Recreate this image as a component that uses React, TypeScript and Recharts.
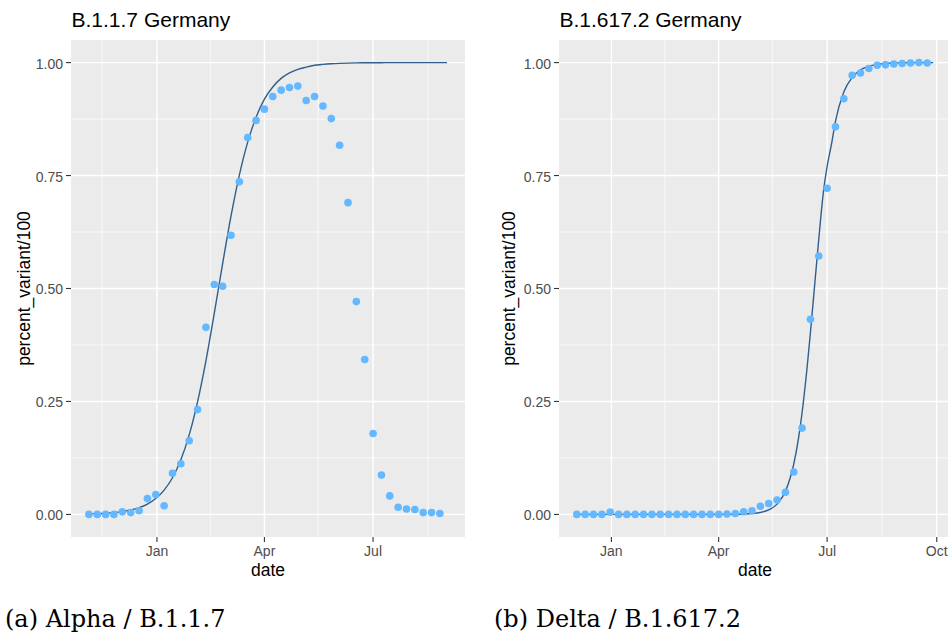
import React from 'react';
import { ComposedChart, Scatter, Line, XAxis, YAxis, CartesianGrid } from 'recharts';

// ---------- data ----------
const alphaDates = [
  '2020-11-05', '2020-11-12', '2020-11-19', '2020-11-26', '2020-12-03', '2020-12-10', '2020-12-17', '2020-12-24',
  '2020-12-31', '2021-01-07', '2021-01-14', '2021-01-21', '2021-01-28', '2021-02-04', '2021-02-11', '2021-02-18',
  '2021-02-25', '2021-03-04', '2021-03-11', '2021-03-18', '2021-03-25', '2021-04-01', '2021-04-08', '2021-04-15',
  '2021-04-22', '2021-04-29', '2021-05-06', '2021-05-13', '2021-05-20', '2021-05-27', '2021-06-03', '2021-06-10',
  '2021-06-17', '2021-06-24', '2021-07-01', '2021-07-08', '2021-07-15', '2021-07-22', '2021-07-29', '2021-08-05',
  '2021-08-12', '2021-08-19', '2021-08-26',
];
const alphaShare = [
  0.0, 0.0, 0.0, 0.0, 0.006, 0.004, 0.008, 0.035,
  0.044, 0.019, 0.091, 0.112, 0.163, 0.232, 0.414, 0.509,
  0.505, 0.618, 0.736, 0.834, 0.872, 0.897, 0.925, 0.939,
  0.945, 0.948, 0.916, 0.925, 0.904, 0.876, 0.817, 0.69,
  0.471, 0.343, 0.179, 0.087, 0.041, 0.016, 0.012, 0.011,
  0.004, 0.004, 0.002,
];
const alphaFitDates = [...alphaDates, '2021-09-01'];
const alphaFitShare = [
  0.0011, 0.0017, 0.0026, 0.004, 0.0062, 0.0097, 0.0149, 0.023,
  0.0353, 0.0538, 0.0812, 0.1208, 0.176, 0.249, 0.34, 0.445,
  0.555, 0.66, 0.751, 0.824, 0.879, 0.919, 0.946, 0.965,
  0.977, 0.985, 0.99, 0.994, 0.996, 0.9974, 0.9983, 0.9989,
  0.9993, 0.9996, 0.9997, 0.9998, 0.9999, 0.9999, 0.9999, 1.0,
  1.0, 1.0, 1.0, 1.0,
];

const deltaDates = [
  '2020-12-03', '2020-12-10', '2020-12-17', '2020-12-24', '2020-12-31', '2021-01-07', '2021-01-14', '2021-01-21',
  '2021-01-28', '2021-02-04', '2021-02-11', '2021-02-18', '2021-02-25', '2021-03-04', '2021-03-11', '2021-03-18',
  '2021-03-25', '2021-04-01', '2021-04-08', '2021-04-15', '2021-04-22', '2021-04-29', '2021-05-06', '2021-05-13',
  '2021-05-20', '2021-05-27', '2021-06-03', '2021-06-10', '2021-06-17', '2021-06-24', '2021-07-01', '2021-07-08',
  '2021-07-15', '2021-07-22', '2021-07-29', '2021-08-05', '2021-08-12', '2021-08-19', '2021-08-26', '2021-09-02',
  '2021-09-09', '2021-09-16', '2021-09-23',
];
const deltaShare = [
  0.0, 0.0, 0.0, 0.0, 0.005, 0.0, 0.0, 0.0,
  0.0, 0.0, 0.0, 0.0, 0.0, 0.0, 0.0, 0.0,
  0.0, 0.0, 0.001, 0.002, 0.006, 0.008, 0.018, 0.024,
  0.032, 0.049, 0.094, 0.191, 0.432, 0.572, 0.722, 0.858,
  0.92, 0.972, 0.977, 0.987, 0.994, 0.995, 0.997, 0.998,
  0.999, 1.0, 0.999,
];
const deltaFitDates = [
  '2020-12-03', '2021-01-07', '2021-02-04', '2021-03-04', '2021-04-01', '2021-04-08', '2021-04-15', '2021-04-22',
  '2021-04-29', '2021-05-06', '2021-05-13', '2021-05-20', '2021-05-27', '2021-05-31', '2021-06-03', '2021-06-07',
  '2021-06-10', '2021-06-14', '2021-06-17', '2021-06-21', '2021-06-24', '2021-06-28', '2021-07-01', '2021-07-05',
  '2021-07-08', '2021-07-15', '2021-07-22', '2021-07-29', '2021-08-05', '2021-08-12', '2021-08-19', '2021-08-26',
  '2021-09-02', '2021-09-09', '2021-09-16', '2021-09-23', '2021-09-28',
];
const deltaFitShare = [
  0.0, 0.0, 0.0, 0.00001, 0.00007, 0.00015, 0.00035, 0.0008,
  0.0019, 0.0043, 0.01, 0.0228, 0.051, 0.0805, 0.1115, 0.1685,
  0.225, 0.3195, 0.402, 0.521, 0.609, 0.716, 0.77, 0.824,
  0.87, 0.935, 0.967, 0.984, 0.992, 0.996, 0.998, 0.999,
  0.9995, 1.0, 1.0, 1.0, 1.0,
];

const monthTickDates = ['2021-01-01', '2021-04-01', '2021-07-01', '2021-10-01'];
const monthTickLabels = ['Jan', 'Apr', 'Jul', 'Oct'];
const minorMonthDates = ['2020-11-16', '2021-02-15', '2021-05-16', '2021-08-16'];
const yTicks = [0, 0.25, 0.5, 0.75, 1];
const yMinor = [0.125, 0.375, 0.625, 0.875];

// ---------- helpers ----------
const ORIGIN = Date.parse('2021-01-01');
const toDay = (s: string) => (Date.parse(s) - ORIGIN) / 86400000;
const rows = (dates: string[], vals: number[]) => dates.map((d, i) => ({ x: toDay(d), y: vals[i] }));

const alphaPts = rows(alphaDates, alphaShare);
const alphaFit = rows(alphaFitDates, alphaFitShare);
const deltaPts = rows(deltaDates, deltaShare);
const deltaFit = rows(deltaFitDates, deltaFitShare);

const tickDays = monthTickDates.map(toDay);
const minorDays = minorMonthDates.map(toDay);

const expand = (fit: { x: number }[]) => {
  const lo = Math.min(...fit.map((r) => r.x));
  const hi = Math.max(...fit.map((r) => r.x));
  const pad = (hi - lo) * 0.05;
  return [lo - pad, hi + pad] as [number, number];
};

const SANS = '"Liberation Sans", Arial, Helvetica, sans-serif';
const POINT = '#63B8FF';
const LINE = '#2F5F8A';

const Dot = (p: any) => <circle cx={p.cx} cy={p.cy} r={3.8} fill={POINT} />;

function Panel({ pts, fit, width, marginRight }: { pts: any[]; fit: any[]; width: number; marginRight: number }) {
  const domain = expand(fit);
  const xt = tickDays.filter((d) => d >= domain[0] && d <= domain[1]);
  const xm = minorDays.filter((d) => d >= domain[0] && d <= domain[1]);
  return (
    <ComposedChart width={width} height={567} margin={{ top: 40, right: marginRight, bottom: 0, left: 0 }}>
      <CartesianGrid fill="#EBEBEB" stroke="#FFFFFF" strokeWidth={0.7} horizontalValues={yMinor} verticalValues={xm} />
      <CartesianGrid stroke="#FFFFFF" strokeWidth={1.4} horizontalValues={yTicks} verticalValues={xt} />
      <XAxis
        type="number"
        dataKey="x"
        domain={domain}
        allowDataOverflow
        ticks={xt}
        interval={0}
        tickFormatter={(v: number) => monthTickLabels[tickDays.indexOf(v)]}
        axisLine={false}
        tickLine={{ stroke: '#333333', strokeWidth: 1.1 }}
        tickSize={5}
        tickMargin={4}
        height={30}
        tick={{ fill: '#4D4D4D', fontSize: 14, fontFamily: SANS }}
      />
      <YAxis
        type="number"
        dataKey="y"
        domain={[-0.05, 1.05]}
        allowDataOverflow
        ticks={yTicks}
        interval={0}
        tickFormatter={(v: number) => v.toFixed(2)}
        axisLine={false}
        tickLine={{ stroke: '#333333', strokeWidth: 1.1 }}
        tickSize={5}
        tickMargin={3}
        width={71}
        tick={{ fill: '#4D4D4D', fontSize: 14, fontFamily: SANS, dy: 1 }}
      />
      <Scatter data={pts} dataKey="y" shape={Dot} isAnimationActive={false} />
      <Line data={fit} dataKey="y" type="monotone" dot={false} activeDot={false} stroke={LINE} strokeWidth={1.4} isAnimationActive={false} />
    </ComposedChart>
  );
}

export default function App() {
  return (
    <div style={{ position: 'absolute', left: 0, top: 0, width: 948, height: 634, overflow: 'hidden', background: '#FFFFFF' }}>
      <div style={{ position: 'absolute', left: 0, top: 0 }}>
        <Panel pts={alphaPts} fit={alphaFit} width={474} marginRight={9} />
      </div>
      <div style={{ position: 'absolute', left: 488, top: 0 }}>
        <Panel pts={deltaPts} fit={deltaFit} width={463} marginRight={0} />
      </div>
      <svg width={948} height={634} style={{ position: 'absolute', left: 0, top: 0, pointerEvents: 'none' }}>
        <text x={71.5} y={26.7} fontSize={21} fontFamily={SANS} fill="#000">B.1.1.7 Germany</text>
        <text x={559.5} y={26.7} fontSize={21} fontFamily={SANS} fill="#000">B.1.617.2 Germany</text>
        <text transform="translate(29.5,288.5) rotate(-90)" textAnchor="middle" fontSize={17.5} fontFamily={SANS} fill="#000">percent_variant/100</text>
        <text transform="translate(514.8,288.5) rotate(-90)" textAnchor="middle" fontSize={17.5} fontFamily={SANS} fill="#000">percent_variant/100</text>
        <text x={268} y={576} textAnchor="middle" fontSize={17.5} fontFamily={SANS} fill="#000">date</text>
        <text x={755} y={576} textAnchor="middle" fontSize={17.5} fontFamily={SANS} fill="#000">date</text>
        <text x={5} y={627} fontSize={24} fontFamily={'"DejaVu Serif", serif'} fill="#000">(a) Alpha / B.1.1.7</text>
        <text x={494} y={627} fontSize={24} fontFamily={'"DejaVu Serif", serif'} fill="#000">(b) Delta / B.1.617.2</text>
      </svg>
    </div>
  );
}
